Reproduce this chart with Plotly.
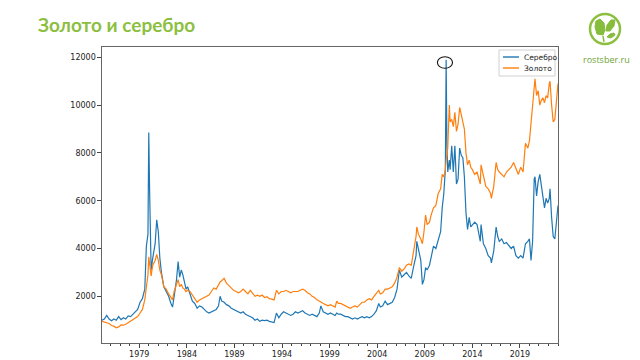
import pandas as pd
import plotly.graph_objects as go

dates = [
 "1975-02","1975-05","1975-08","1975-11","1976-02","1976-05","1976-08","1976-11",
 "1977-02","1977-05","1977-08","1977-11","1978-02","1978-05","1978-08","1978-11",
 "1979-02","1979-05","1979-08","1979-10","1979-12","1980-01","1980-02","1980-03",
 "1980-04","1980-06","1980-09","1980-11","1981-01","1981-03","1981-05","1981-08",
 "1981-11","1982-02","1982-05","1982-07","1982-09","1982-12","1983-02","1983-04",
 "1983-06","1983-08","1983-10","1983-12","1984-02","1984-05","1984-08","1984-11",
 "1985-02","1985-05","1985-08","1985-11","1986-02","1986-05","1986-08","1986-11",
 "1987-02","1987-05","1987-07","1987-09","1987-12","1988-03","1988-06","1988-09",
 "1988-12","1989-03","1989-06","1989-09","1989-12","1990-03","1990-06","1990-09",
 "1990-12","1991-03","1991-06","1991-09","1991-12","1992-03","1992-06","1992-09",
 "1992-12","1993-03","1993-06","1993-09","1993-12","1994-03","1994-06","1994-09",
 "1994-12","1995-03","1995-06","1995-09","1995-12","1996-03","1996-06","1996-09",
 "1996-12","1997-03","1997-06","1997-09","1997-12","1998-02","1998-05","1998-08",
 "1998-11","1999-02","1999-05","1999-08","1999-10","1999-12","2000-03","2000-06",
 "2000-09","2000-12","2001-03","2001-06","2001-09","2001-12","2002-03","2002-06",
 "2002-09","2002-12","2003-03","2003-06","2003-09","2003-12","2004-03","2004-05",
 "2004-08","2004-11","2005-02","2005-05","2005-08","2005-11","2006-02","2006-05",
 "2006-08","2006-11","2007-02","2007-05","2007-08","2007-11","2008-02","2008-03",
 "2008-05","2008-08","2008-10","2008-12","2009-02","2009-04","2009-07","2009-09",
 "2009-12","2010-03","2010-06","2010-09","2010-11","2011-01","2011-03","2011-04",
 "2011-05","2011-06","2011-08","2011-09","2011-11","2012-01","2012-03","2012-05",
 "2012-07","2012-09","2012-11","2013-01","2013-03","2013-05","2013-07","2013-09",
 "2013-11","2014-01","2014-04","2014-07","2014-09","2014-11","2014-12","2015-03",
 "2015-06","2015-09","2015-12","2016-01","2016-04","2016-07","2016-09","2016-11",
 "2017-02","2017-05","2017-08","2017-11","2018-02","2018-05","2018-08","2018-11",
 "2019-02","2019-05","2019-08","2019-11","2020-01","2020-03","2020-05","2020-07",
 "2020-08","2020-10","2020-12","2021-02","2021-04","2021-06","2021-08","2021-10",
 "2021-12","2022-02","2022-03","2022-05","2022-07","2022-09","2022-11","2023-01",
]

silver = [
 1000,1050,1200,1050, 980,1050,1000,1150,
 1020,1100,1050,1180,1150,1250,1350,1450,
 1750,1900,2300,4100,4600,8850,6500,4000,
 3100,3600,4200,5200,4700,3600,3000,2400,
 2200,2000,1700,1550,2000,2700,3450,2800,
 3100,2900,2600,2300,2400,2100,1800,1700,
 1500,1600,1550,1450,1350,1300,1350,1400,
 1450,1600,2000,1800,1750,1650,1600,1500,
 1450,1400,1350,1300,1350,1250,1200,1150,
 1100,1000,1050, 950,1000, 980,1000, 950,
  920, 900,1300,1100,1250,1350,1300,1250,
 1200,1250,1350,1300,1350,1400,1300,1250,
 1200,1250,1200,1150,1300,1600,1350,1300,
 1250,1300,1250,1200,1300,1250,1250,1200,
 1150,1150,1100,1050,1100,1050,1100,1150,
 1100,1150,1100,1150,1250,1400,1700,1550,
 1600,1800,1650,1700,1750,1950,2300,3100,
 2800,2900,3000,2850,2750,3250,3700,4300,
 4000,3500,2500,2700,3200,3100,3300,3700,
 4100,4000,4400,4700,5700,6300,7300,11900,
 8300,7200,7700,7300,8300,7200,8300,6700,
 6900,8200,7900,7800,7000,5500,4800,5300,
 4900,5000,5100,5000,4700,4300,5000,4200,
 4000,3700,3600,3400,3900,4900,4500,4300,
 4400,4200,4250,4100,4000,4100,3700,3600,
 3700,3600,4200,4300,4400,3500,4300,6900,
 7000,6200,6800,7100,6600,6200,5700,6100,
 5900,6100,6500,5300,4500,4400,5300,5800,
]

gold = [
  950, 920, 880, 860, 780, 750, 680, 720,
  800, 790, 830, 900, 960,1000,1100,1150,
 1300,1450,1850,2300,2900,3650,3300,3000,
 2850,3300,3500,3750,3500,3100,2900,2400,
 2300,2100,1950,1850,2200,2500,2700,2400,
 2500,2350,2300,2200,2250,2200,2050,1900,
 1750,1850,1900,1950,2000,2050,2200,2350,
 2300,2500,2600,2650,2750,2550,2450,2350,
 2250,2200,2150,2200,2300,2200,2100,2250,
 2100,2000,2050,2000,2050,1950,1980,1900,
 1880,1850,2250,2100,2200,2200,2250,2200,
 2150,2200,2200,2200,2250,2300,2250,2150,
 2100,2000,1950,1850,1800,1750,1700,1650,
 1600,1650,1600,1550,1800,1700,1700,1650,
 1600,1550,1500,1550,1600,1550,1650,1750,
 1750,1850,1900,1850,2000,2150,2250,2100,
 2150,2300,2300,2350,2400,2550,2800,3200,
 3050,3150,3300,3350,3300,3900,4500,4900,
 4600,4400,4200,4700,5400,5000,5100,5400,
 5700,5800,6300,6500,7100,7000,7300,7700,
 7900,8200,10000,9300,9400,9100,9700,8900,
 9200,9900,9600,9300,9000,8000,7500,7700,
 7400,7300,7100,7200,6900,6700,7500,7000,
 6600,6500,6300,6100,6600,7600,7300,7200,
 7100,7000,7200,7300,7400,7600,7300,7100,
 7400,7200,8400,8200,8500,9300,9800,10800,
 11100,10400,10600,10000,10200,10300,10100,10400,
 10300,10900,11000,10000,9300,9400,10200,10900,
]

series_names = ["Серебро", "Золото"]
series_colors = ["#1f77b4", "#ff7f0e"]
y_ticks = [2000, 4000, 6000, 8000, 10000, 12000]

x = pd.to_datetime(dates)

# page has an 8px body margin: figure origin sits at screen (8, 8)
OFF = 8
W, H = 640 - OFF, 360 - OFF
# plot-area geometry in screen pixels
L, R, T, B = 102, 558, 47, 343

def px(xp):
    return (xp - L) / (R - L)

def py(yp):
    return (B - yp) / (B - T)

fig = go.Figure()
for name, vals, col in zip(series_names, [silver, gold], series_colors):
    fig.add_trace(go.Scatter(x=x, y=vals, mode="lines", name=name,
                             line=dict(color=col, width=1.2), showlegend=False))

# legend drawn as box + line samples + text
fig.add_shape(type="rect", xref="paper", yref="paper",
              x0=px(499), x1=px(555), y0=py(76), y1=py(50),
              line=dict(color="#d0d0d0", width=1), fillcolor="rgba(255,255,255,0.85)",
              layer="above")
for k, (name, col) in enumerate(zip(series_names, series_colors)):
    yy = 57 + 11 * k
    fig.add_shape(type="line", xref="paper", yref="paper",
                  x0=px(503), x1=px(519), y0=py(yy), y1=py(yy),
                  line=dict(color=col, width=1.4), layer="above")
    fig.add_annotation(text=name, xref="paper", yref="paper",
                       x=px(522), y=py(yy), xanchor="left", yanchor="middle",
                       showarrow=False,
                       font=dict(family="DejaVu Sans", size=7.5, color="#222"))

# hand-drawn circle near the silver peak
i_pk = silver.index(max(silver))
pk_date = x[i_pk]
pk_val = silver[i_pk]
fig.add_shape(type="circle", xref="x", yref="y",
              x0=pk_date - pd.DateOffset(months=11), x1=pk_date + pd.DateOffset(months=8),
              y0=pk_val - 360, y1=pk_val + 125,
              line=dict(color="#111111", width=1.1))

green = "#8cbf3f"
# logo circle
cx, cy, r = 605, 29, 15
fig.add_shape(type="circle", xref="paper", yref="paper",
              x0=px(cx - r), x1=px(cx + r), y0=py(cy + r), y1=py(cy - r),
              line=dict(color=green, width=2.5), layer="above")

def path(points):
    return "M " + " L ".join(f"{px(a):.4f},{py(b):.4f}" for a, b in points) + " Z"

leaf_big = [(597, 34), (595, 27), (596, 21), (600, 19), (604, 23), (605, 30), (603, 35)]
leaf_right = [(606, 31), (607, 25), (611, 20), (615, 20), (614, 26), (610, 31)]
leaf_small = [(607, 37), (610, 34), (614, 33), (615, 35), (611, 38)]
for pts in [leaf_big, leaf_right, leaf_small]:
    fig.add_shape(type="path", xref="paper", yref="paper", path=path(pts),
                  fillcolor="#86bd3c", line=dict(color="#86bd3c", width=1), layer="above")
fig.add_shape(type="path", xref="paper", yref="paper",
              path=f"M {px(603):.4f},{py(36):.4f} L {px(604):.4f},{py(42):.4f}",
              line=dict(color="#86bd3c", width=1.5), layer="above")

fig.add_annotation(text="rostsber.ru", xref="paper", yref="paper",
                   x=px(606), y=py(59), xanchor="center", yanchor="middle",
                   showarrow=False, font=dict(family="Open Sans", size=9, color="#6aa535"))

fig.add_annotation(text="<b>Золото и серебро</b>", xref="paper", yref="paper",
                   x=px(36), y=py(25), xanchor="left", yanchor="middle",
                   showarrow=False, font=dict(family="Lato", size=19, color=green))

fig.update_layout(
    width=W, height=H,
    margin=dict(l=L - OFF, r=W - (R - OFF), t=T - OFF, b=H - (B - OFF), autoexpand=False),
    paper_bgcolor="white", plot_bgcolor="white",
    font=dict(family="DejaVu Sans", size=8, color="#222"),
    showlegend=False,
)
fig.update_xaxes(range=[x[0], x[-1]], showgrid=False, showline=True, mirror=True,
                 linecolor="#666", linewidth=1.2, ticks="outside", ticklen=3.5,
                 tickcolor="#444", tick0="1979-01-01", dtick="M60", tickformat="%Y",
                 minor=dict(ticks="outside", ticklen=2, dtick="M12", tickcolor="#444",
                            tick0="1979-01-01", showgrid=False),
                 zeroline=False, automargin=False)
fig.update_yaxes(range=[46, 12431], showgrid=False, showline=True, mirror=True,
                 linecolor="#666", linewidth=1.2, ticks="outside", ticklen=3.5,
                 tickcolor="#444", tickvals=y_ticks, tickformat="d", zeroline=False,
                 automargin=False)

fig.write_html("out.html")
